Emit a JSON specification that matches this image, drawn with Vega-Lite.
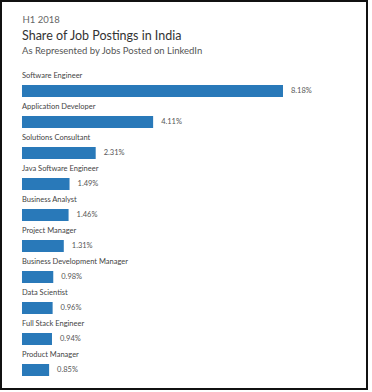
{
  "$schema": "https://vega.github.io/schema/vega-lite/v6.json",
  "autosize": {"type": "none"},
  "width": 366,
  "height": 388,
  "padding": {"left": 1, "top": 1, "right": 5, "bottom": 3},
  "background": "white",
  "config": {"view": {"stroke": "#111", "strokeWidth": 2}, "font": "Lato"},
  "title": {
    "text": "Share of Job Postings in India",
    "subtitle": "As Represented by Jobs Posted on LinkedIn",
    "anchor": "start",
    "frame": "group",
    "dx": 21,
    "offset": -54,
    "fontSize": 12.5,
    "fontWeight": "normal",
    "color": "#333",
    "subtitleFontSize": 9.5,
    "subtitleColor": "#555",
    "subtitlePadding": 3
  },
  "data": {
    "values": [
      {"role": "Software Engineer", "share": 0.0818},
      {"role": "Application Developer", "share": 0.0411},
      {"role": "Solutions Consultant", "share": 0.0231},
      {"role": "Java Software Engineer", "share": 0.0149},
      {"role": "Business Analyst", "share": 0.0146},
      {"role": "Project Manager", "share": 0.0131},
      {"role": "Business Development Manager", "share": 0.0098},
      {"role": "Data Scientist", "share": 0.0096},
      {"role": "Full Stack Engineer", "share": 0.0094},
      {"role": "Product Manager", "share": 0.0085}
    ]
  },
  "encoding": {
    "y": {
      "field": "role",
      "type": "nominal",
      "sort": null,
      "axis": null,
      "scale": {"range": [69, 379], "paddingInner": 0, "paddingOuter": 0}
    }
  },
  "layer": [
    {
      "mark": {"type": "bar", "height": 12, "yOffset": 5.5, "color": "#2979b9"},
      "encoding": {
        "x": {
          "field": "share",
          "type": "quantitative",
          "scale": {"domain": [-0.00658, 0.10813], "nice": false, "zero": false},
          "axis": {
            "orient": "top",
            "title": "H1 2018",
            "labels": false,
            "ticks": false,
            "domain": false,
            "grid": false,
            "titleX": 21,
            "titleY": 18,
            "titleAnchor": null,
            "titleAlign": "left",
            "titleBaseline": "middle",
            "titleFontSize": 9.5,
            "titleFontWeight": "normal",
            "titleColor": "#666"
          }
        },
        "x2": {"datum": 0}
      }
    },
    {
      "mark": {"type": "text", "align": "left", "baseline": "middle", "yOffset": -9.5, "fontSize": 7.5, "color": "#444"},
      "encoding": {
        "x": {"datum": 0},
        "text": {"field": "role"}
      }
    },
    {
      "mark": {"type": "text", "align": "left", "baseline": "middle", "dx": 8, "yOffset": 5.5, "fontSize": 7.5, "color": "#555"},
      "encoding": {
        "x": {"field": "share", "type": "quantitative"},
        "text": {"field": "share", "format": ".2%"}
      }
    }
  ]
}
